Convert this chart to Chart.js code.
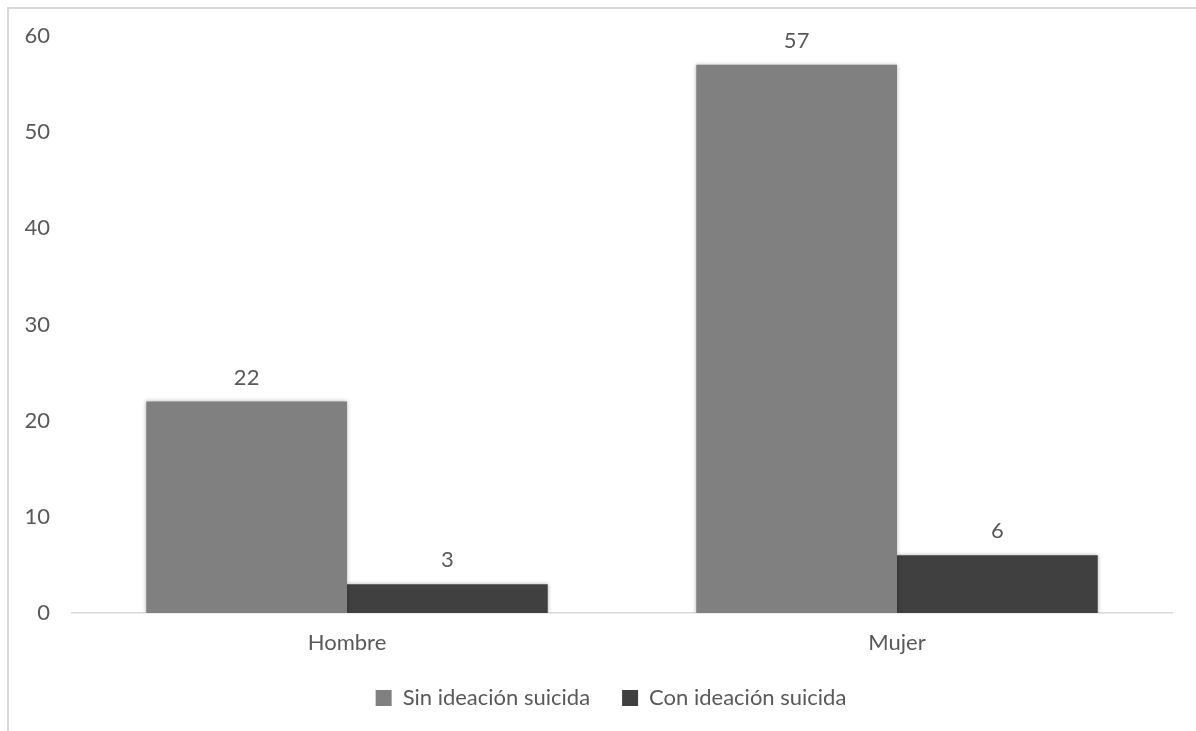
<!DOCTYPE html>
<html>
<head>
<meta charset="utf-8">
<script src="https://cdn.jsdelivr.net/npm/chart.js@4/dist/chart.umd.min.js"></script>
<style>
    html, body { margin: 0; padding: 0; background: #fff; }
    #chartWrap { position: relative; width: 1196px; height: 731px; }
</style>
</head>
<body>
<div id="chartWrap"><canvas id="genderChart" width="1196" height="731"></canvas></div>
<script>
// ============================================
// Ideación suicida por sexo
// ============================================

const categories = ['Hombre', 'Mujer'];
const sinIdeacion = [22, 57];
const conIdeacion = [3, 6];
const seriesNames = ['Sin ideación suicida', 'Con ideación suicida'];
const yTicks = [0, 10, 20, 30, 40, 50, 60];

const TEXT_COLOR = '#595959';
const FONT = { family: 'Lato, "Open Sans", sans-serif', size: 22 };

// Light gray frame around the chart (only top/left visible)
const framePlugin = {
    id: 'frame',
    beforeDraw(chart) {
        const ctx = chart.ctx;
        ctx.save();
        ctx.fillStyle = '#d9d9d9';
        ctx.fillRect(7, 7, 2, chart.height);
        ctx.fillRect(7, 7, chart.width, 2);
        ctx.restore();
    }
};

// Nudge the legend a bit to the left so it sits under the plot like the original
const legendShift = {
    id: 'legendShift',
    afterLayout(chart) {
        if (chart.legend) {
            chart.legend.left -= 11;
            chart.legend.right -= 11;
        }
    }
};

// Soft shadow under the bars
const shadowPlugin = {
    id: 'barShadow',
    beforeDatasetsDraw(chart) {
        const ctx = chart.ctx;
        ctx.save();
        ctx.shadowColor = 'rgba(0, 0, 0, 0.3)';
        ctx.shadowBlur = 4;
        ctx.shadowOffsetX = 0;
        ctx.shadowOffsetY = 0;
    },
    afterDatasetsDraw(chart) {
        chart.ctx.restore();
    }
};

// Values above each bar
const valueLabels = {
    id: 'valueLabels',
    afterDatasetsDraw(chart) {
        const ctx = chart.ctx;
        ctx.save();
        ctx.fillStyle = TEXT_COLOR;
        ctx.font = `${FONT.size}px ${FONT.family}`;
        ctx.textAlign = 'center';
        ctx.textBaseline = 'middle';
        chart.data.datasets.forEach((ds, i) => {
            chart.getDatasetMeta(i).data.forEach((bar, j) => {
                ctx.fillText(String(ds.data[j]), bar.x, bar.y - 24);
            });
        });
        ctx.restore();
    }
};

const ctx = document.getElementById('genderChart').getContext('2d');
new Chart(ctx, {
    type: 'bar',
    data: {
        labels: categories,
        datasets: [
            {
                label: seriesNames[0],
                data: sinIdeacion,
                backgroundColor: '#808080',
                borderWidth: 0
            },
            {
                label: seriesNames[1],
                data: conIdeacion,
                backgroundColor: '#404040',
                borderWidth: 0
            }
        ]
    },
    options: {
        responsive: false,
        animation: false,
        devicePixelRatio: 1,
        categoryPercentage: 0.73,
        barPercentage: 1.0,
        layout: { padding: { top: 36, right: 24, bottom: 12, left: 0 } },
        plugins: {
            legend: {
                position: 'bottom',
                fullSize: false,
                labels: {
                    color: TEXT_COLOR,
                    font: FONT,
                    boxWidth: 16,
                    boxHeight: 16,
                    padding: 32
                }
            },
            tooltip: { enabled: false }
        },
        scales: {
            x: {
                grid: { display: false },
                border: { display: true, color: '#d9d9d9', width: 1.5 },
                ticks: { color: TEXT_COLOR, font: FONT, padding: 9 },
                afterFit(scale) { scale.height = 42; }
            },
            y: {
                min: 0,
                max: 60,
                grid: { display: false },
                border: { display: false },
                afterBuildTicks(scale) {
                    scale.ticks = yTicks.map(v => ({ value: v }));
                },
                ticks: { color: TEXT_COLOR, font: FONT, padding: 14 },
                afterFit(scale) { scale.width = 72; }
            }
        }
    },
    plugins: [framePlugin, legendShift, shadowPlugin, valueLabels]
});
</script>
</body>
</html>
